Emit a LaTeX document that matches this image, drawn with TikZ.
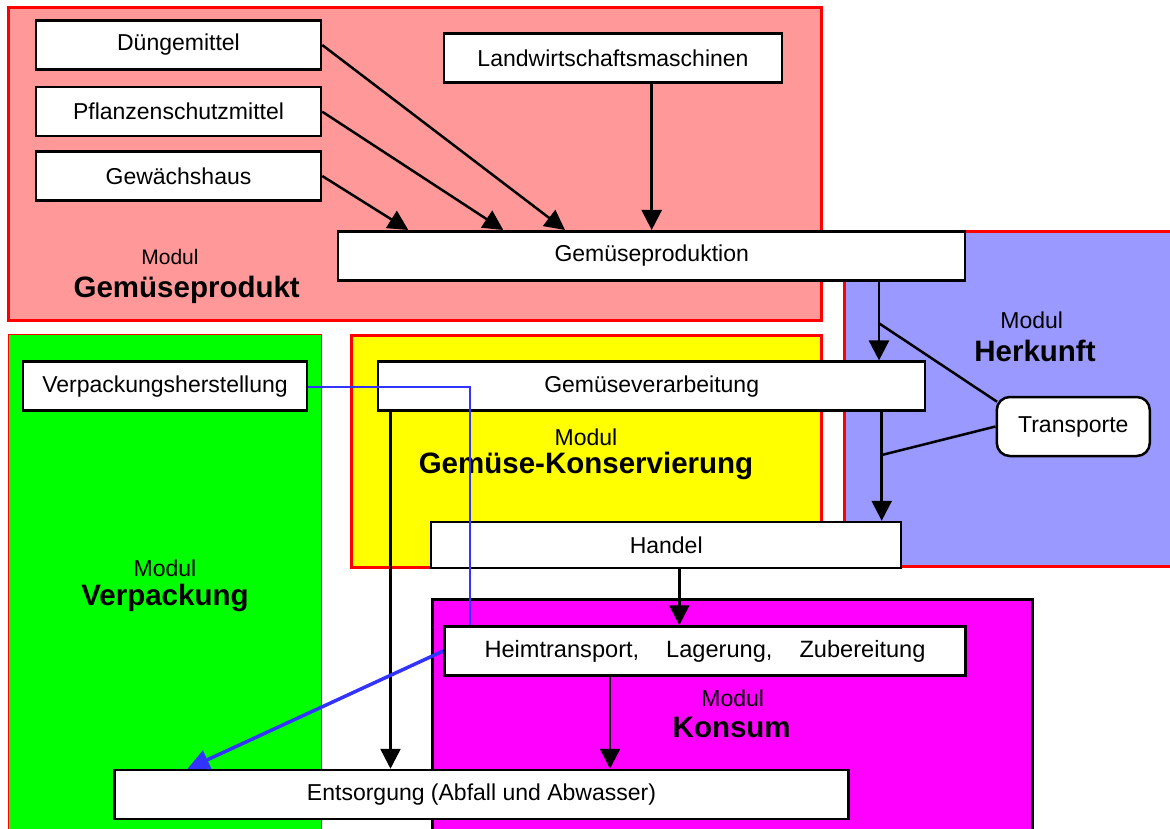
\documentclass[tikz,border=0pt]{standalone}
\usepackage{fontspec}
\setmainfont{Liberation Sans}
\usetikzlibrary{arrows.meta,calc}
\definecolor{pinkmod}{HTML}{FF9999}
\definecolor{bluemod}{HTML}{9999FF}
\definecolor{greenmod}{HTML}{00FF00}
\definecolor{yellowmod}{HTML}{FFFF00}
\definecolor{magentamod}{HTML}{FF00FF}
\definecolor{blueline}{HTML}{3333FF}
\tikzset{
  modrect/.style={line width=3pt, draw=red},
  box/.style={draw=black, fill=white, line width=2.5pt, inner sep=0pt, minimum height=49pt,
    font=\fontsize{23}{27}\selectfont},
  arr/.style={line width=2.5pt, -{Triangle[length=20pt,width=20pt]}},
  link/.style={line width=2.5pt},
  bluelink/.style={line width=2pt, draw=blueline},
  bluearr/.style={line width=3.5pt, draw=blueline, -{Triangle[length=22pt,width=20pt]}},
  modlbl/.style={font=\fontsize{23}{27}\selectfont, inner sep=0pt, anchor=base},
  modtitle/.style={font=\fontsize{29.5}{34}\selectfont\bfseries, inner sep=0pt, anchor=base},
}
\begin{document}
\begin{tikzpicture}[x=1pt, y=-1pt]
\clip (0,0) rectangle (1170,829);
\fill[white] (0,0) rectangle (1170,829);
% modules
\filldraw[modrect, fill=pinkmod] (8.8,7.5) rectangle (821.2,320.2);
\filldraw[modrect, fill=bluemod] (844.8,231.5) rectangle (1185,566.8);
\filldraw[line width=1.2pt, draw=red, fill=greenmod] (8.5,334.5) rectangle (321.5,900);
\filldraw[modrect, fill=yellowmod] (351.5,335.8) rectangle (821.2,567.5);
\filldraw[line width=3pt, draw=black, fill=magentamod] (432.2,599.5) rectangle (1032.5,900);
% module labels
\node[modlbl] (l1a) at (170,264.2) {\fontsize{21}{25}\selectfont Modul};
\node[modtitle] (l1b) at (186.7,297.3) {Gemüseprodukt};
\node[modlbl] (l2a) at (1031.7,328.2) {Modul};
\node[modtitle] (l2b) at (1035,361.6) {Herkunft};
\node[modlbl] (l3a) at (165,576.2) {Modul};
\node[modtitle] (l3b) at (165,605.6) {Verpackung};
\node[modlbl] (l4a) at (586,445.5) {Modul};
\node[modtitle] (l4b) at (586,473.9) {Gemüse-Konservierung};
\node[modlbl] (l5a) at (732.7,706.5) {Modul};
\node[modtitle] (l5b) at (731.7,737.3) {Konsum};
% boxes
\node[box, minimum width=285pt] (dueng) at (178.5,45) {Düngemittel};
\node[box, minimum width=285pt] (pflanz) at (178.5,111.7) {Pflanzenschutzmittel};
\node[box, minimum width=285pt] (gewaechs) at (178.5,176) {Gewächshaus};
\node[box, minimum width=338pt] (landw) at (613,58) {Landwirtschaftsmaschinen};
\node[box, minimum width=627pt, minimum height=49pt] (prod) at (651.7,256) {Gemüseproduktion};
\node[box, minimum width=284pt] (verpack) at (165,386.2) {Verpackungsherstellung};
\node[box, minimum width=547pt] (verarb) at (651.7,386.2) {Gemüseverarbeitung};
\node[box, minimum width=470pt, minimum height=46pt] (handel) at (666.2,545) {Handel};
\node[box, minimum width=521pt, font=\fontsize{23.6}{28}\selectfont] (heim) at (705,651) {Heimtransport,\hspace{27pt}Lagerung,\hspace{27pt}Zubereitung};
\node[box, minimum width=734pt] (ents) at (481.5,794.5) {Entsorgung (Abfall und Abwasser)};
\node[box, rounded corners=13pt, minimum width=153pt, minimum height=59pt] (transp) at (1073.3,426.5) {Transporte};
% connection points
\coordinate (p1) at (408.3,230);
\coordinate (p2) at (503.3,230);
\coordinate (p3) at (565,230);
\coordinate (p4) at (651.7,230);
\coordinate (c1) at (879,300);
\coordinate (c2) at (881.7,450);
\coordinate (c3) at (679.3,600);
\coordinate (c4) at (610,700);
\coordinate (c5) at (390.5,600);
\coordinate (t1) at (879,323.3);
\coordinate (t2) at (881.7,455);
\coordinate (bv) at (470,387.3);
\coordinate (be) at (187.3,769);
% connectors
\draw[arr] (dueng.east) -- (p3);
\draw[arr] (pflanz.east) -- (p2);
\draw[arr] (gewaechs.east) -- (p1);
\draw[arr] (landw.south -| p4) -- (p4);
\draw[arr] (prod.south -| c1) -- (verarb.north -| c1);
\draw[arr] (verarb.south -| c2) -- (handel.north -| c2);
\draw[arr] (handel.south -| c3) -- (heim.north -| c3);
\draw[arr] (heim.south -| c4) -- (ents.north -| c4);
\draw[arr] (verarb.south -| c5) -- (ents.north -| c5);
\draw[link] (t1) -- ($(transp.north west)+(1.5,6)$);
\draw[link] (t2) -- (transp.west);
\draw[bluelink] (verpack.east |- bv) -- (bv) -- (heim.north -| bv);
\draw[bluearr] (heim.west) -- (be);
\end{tikzpicture}
\end{document}
